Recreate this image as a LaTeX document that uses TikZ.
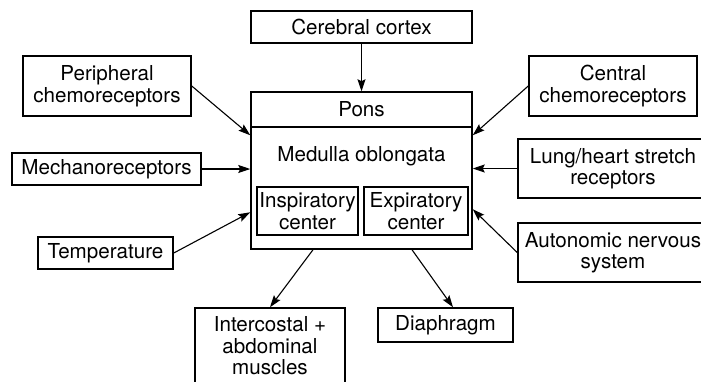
\documentclass[tikz,border=0pt]{standalone}
\usepackage{fontspec}
\setmainfont{TeX Gyre Heros}
\usetikzlibrary{arrows.meta}

\tikzset{
  box/.style={draw, line width=1.5pt, inner sep=0pt, align=center},
  link/.style={-{Stealth[length=12pt,width=8pt,inset=2pt]}, line width=1.1pt},
}

\begin{document}
\begin{tikzpicture}[x=1pt, y=-1pt, font=\fontsize{20.6}{21.5}\selectfont]
    \path[use as bounding box] (0,0) rectangle (701,381);
    \clip (0,0) rectangle (701,381);

    % Respiratory centers
    \node[box, minimum width=221pt, minimum height=157pt] (outer) at (361.5,170.5) {};
    \node[box, minimum width=221pt, minimum height=35pt] (pons) at (361.5,109.5) {Pons};
    \node (medulla) at (361.5,156) {Medulla oblongata};
    \node[box, minimum width=101pt, minimum height=48pt] (insp) at (307.5,211) {Inspiratory\\center};
    \node[box, minimum width=104pt, minimum height=48pt] (exp) at (416,211) {Expiratory\\center};

    % Inputs
    \node[box, minimum width=221pt, minimum height=32pt] (cortex) at (361.5,27) {Cerebral cortex};
    \node[box, minimum width=168pt, minimum height=60pt] (peri) at (107,86) {Peripheral\\chemoreceptors};
    \node[box, minimum width=189pt, minimum height=32pt] (mech) at (106.5,169) {Mechanoreceptors};
    \node[box, minimum width=135pt, minimum height=32pt] (temp) at (105.5,253) {Temperature};
    \node[box, minimum width=168pt, minimum height=60pt] (central) at (613,86) {Central\\chemoreceptors};
    \node[box, minimum width=190pt, minimum height=59pt] (lung) at (613,168.5) {Lung/heart stretch\\receptors};
    \node[box, minimum width=190pt, minimum height=59pt] (auto) at (613,252.5) {Autonomic nervous\\system};

    % Outputs
    \node[box, minimum width=150pt, minimum height=76pt] (inter) at (270,346) {Intercostal +\\abdominal\\muscles};
    \node[box, minimum width=135pt, minimum height=34pt] (diaph) at (445.5,325) {Diaphragm};

    \draw[link] (cortex) -- (pons);
    \draw[link] (peri.east) -- ([yshift=-44pt]outer.north west);
    \draw[link] (mech.east) -- (mech.east -| outer.west);
    \draw[link] (temp.east) -- ([yshift=-121pt]outer.north west);
    \draw[link] (central.west) -- ([yshift=-44pt]outer.north east);
    \draw[link] (lung.west) -- (lung.west -| outer.east);
    \draw[link] (auto.west) -- ([yshift=-118pt]outer.north east);
    \draw[link] ([xshift=-48.5pt]outer.south) -- (inter.north);
    \draw[link] ([xshift=50.5pt]outer.south) -- ([xshift=7.5pt]diaph.north);
\end{tikzpicture}
\end{document}
